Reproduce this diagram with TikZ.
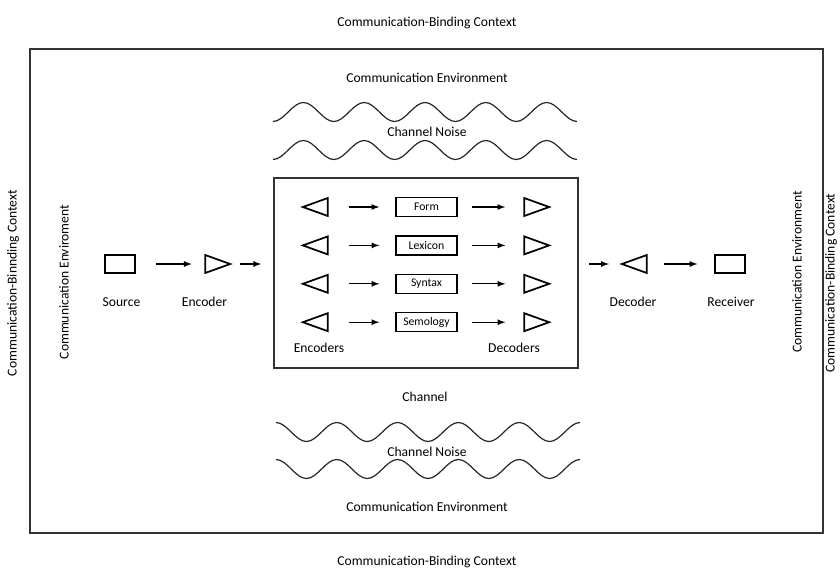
\documentclass[tikz,border=0pt]{standalone}
\usepackage{fontspec}
\setmainfont{Carlito}
\usepackage{tikz}
\usetikzlibrary{arrows,shapes}
\tikzstyle{txt} = [inner sep=0pt, font=\fontsize{10.2}{12}\selectfont]
\tikzstyle{sidetxt} = [txt, rotate=90]
\tikzstyle{frame} = [draw=black!80, line width=1.2pt, inner sep=0pt]
\tikzstyle{unit} = [draw, line width=1.4pt, minimum width=22.5pt, minimum height=13.5pt, inner sep=0pt]
\tikzstyle{coder} = [draw, line width=1.3pt, isosceles triangle, isosceles triangle stretches, inner sep=0pt, minimum width=13.5pt, minimum height=18.75pt]
\tikzstyle{level} = [draw, line width=1pt, minimum width=45.75pt, minimum height=14.25pt, inner sep=0pt, font=\fontsize{8.8}{10}\selectfont]
\tikzstyle{flow} = [-latex, line width=1pt]
\tikzstyle{noise} = [line width=0.9pt, draw=black!85]

\begin{document}
\begin{tikzpicture}[x=0.75pt,y=-0.75pt]
    \useasboundingbox (0,0) rectangle (840,569);
    % frames
    \node[frame, minimum width=594.75pt, minimum height=363pt] (ctx) at (426.5,291) {};
    \node[frame, minimum width=228pt, minimum height=142.5pt] (chan) at (426,273) {};
    % context and environment
    \node[txt] (ctxtop) at (427,23) {Communication-Binding Context};
    \node[txt] (ctxbot) at (427,562) {Communication-Binding Context};
    \node[sidetxt] (ctxl) at (13,283) {Communication-Binnding Context};
    \node[sidetxt] (ctxr) at (831,283) {Communication-Binding Context};
    \node[sidetxt] (envl) at (64,282) {Communication Enviroment};
    \node[sidetxt] (envr) at (797,272) {Communication Environment};
    \node[txt] (envtop) at (427,78) {Communication Environment};
    \node[txt] (noisetop) at (427,132) {Channel Noise};
    \node[txt] (chanlbl) at (425,397) {Channel};
    \node[txt] (noisebot) at (427,452) {Channel Noise};
    \node[txt] (envbot) at (427,507) {Communication Environment};
    % noise waves
    \foreach \yc/\xa/\s in {112/273/1, 150/273/1, 432/276/-1, 469/276/-1} {
        \draw[noise] (\xa,{\yc+9.5*\s}) \foreach \k in {1,...,5} {
            cos ++(15.2,{-9.5*\s}) sin ++(15.2,{-9.5*\s}) cos ++(15.2,{9.5*\s}) sin ++(15.2,{9.5*\s})
        };
    }
    % sender and receiver
    \node[unit] (src) at (120,264) {};
    \node[coder] (enc) at (211.5,264) {};
    \node[coder, shape border rotate=180] (dec) at (640.5,264) {};
    \node[unit] (rcv) at (730,264) {};
    \node[txt] at (121.5,302) {Source};
    \node[txt] at (204.5,302) {Encoder};
    \node[txt] at (633,302) {Decoder};
    \node[txt] at (731,302) {Receiver};
    \draw[flow, shorten <=15pt, shorten >=9.5pt] (src) -- (enc);
    \draw[flow, shorten <=6pt, shorten >=9pt] (enc) -- (enc -| chan.west);
    \draw[flow, shorten <=7.5pt, shorten >=8pt] (dec -| chan.east) -- (dec);
    \draw[flow, shorten <=12.5pt, shorten >=12.5pt] (dec) -- (rcv);
    % levels
    \foreach \name [count=\i] in {Form,Lexicon,Syntax,Semology} {
        \node[coder, shape border rotate=180] (in\i) at (321.5,{207+38.4*(\i-1)}) {};
        \node[level] (lv\i) at (426.5,{207+38.4*(\i-1)}) {\name};
        \node[coder] (out\i) at (530.5,{207+38.4*(\i-1)}) {};
        \draw[flow, shorten <=15pt, shorten >=12pt] (in\i) -- (lv\i);
        \draw[flow, shorten <=11pt, shorten >=13.5pt] (lv\i) -- (out\i);
    }
    \node[txt] at (319,348) {Encoders};
    \node[txt] at (514,348) {Decoders};
\end{tikzpicture}
\end{document}
